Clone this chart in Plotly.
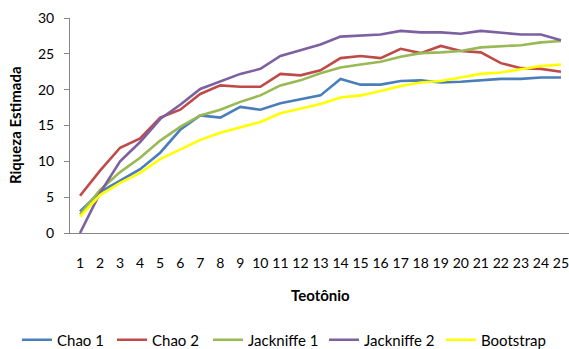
import plotly.graph_objects as go

amostras = list(range(1, 26))
chao1 = [3.0, 5.7, 7.3, 8.9, 11.2, 14.4, 16.4, 16.1, 17.6, 17.2, 18.1, 18.7, 19.2, 21.5, 20.7, 20.7, 21.2, 21.3, 21.0, 21.1, 21.3, 21.5, 21.5, 21.7, 21.7]
chao2 = [5.2, 8.7, 11.9, 13.2, 16.1, 17.2, 19.4, 20.6, 20.4, 20.4, 22.2, 22.0, 22.7, 24.4, 24.7, 24.4, 25.7, 25.1, 26.1, 25.4, 25.2, 23.7, 23.0, 22.9, 22.5]
jack1 = [2.6, 6.0, 8.5, 10.5, 12.9, 14.8, 16.4, 17.2, 18.3, 19.2, 20.6, 21.3, 22.3, 23.1, 23.5, 23.9, 24.6, 25.1, 25.2, 25.4, 25.9, 26.1, 26.2, 26.6, 26.8]
jack2 = [0.0, 5.6, 10.0, 12.7, 15.9, 17.9, 20.1, 21.1, 22.2, 22.9, 24.7, 25.5, 26.3, 27.4, 27.5, 27.7, 28.2, 28.0, 28.0, 27.8, 28.2, 28.0, 27.7, 27.7, 26.9]
boot = [2.3, 5.3, 7.0, 8.4, 10.3, 11.6, 13.0, 14.0, 14.8, 15.5, 16.7, 17.3, 18.0, 18.9, 19.2, 19.8, 20.5, 21.0, 21.2, 21.7, 22.2, 22.4, 22.9, 23.3, 23.5]
yticks = [0, 5, 10, 15, 20, 25, 30]

series = [
    ("Chao 1", chao1, "#4A7EBB"),
    ("Chao 2", chao2, "#BE4B48"),
    ("Jackniffe 1", jack1, "#98B954"),
    ("Jackniffe 2", jack2, "#7D60A0"),
    ("Bootstrap", boot, "#FFFF00"),
]
# legend text start positions (pixels) in the reference
legend_text_x = [60, 155, 251, 367, 484]

FONT = "Lato"
W, H = 569, 349
L, R, T, B = 70, 0, 18, 116
pw, ph = W - L - R, H - T - B

def px(xp):
    return (xp - L) / pw

def py(yp):
    return ((H - yp) - B) / ph

fig = go.Figure()
layout_legends = {}
for i, (name, vals, col) in enumerate(series):
    key = "legend" if i == 0 else f"legend{i+1}"
    fig.add_trace(go.Scatter(x=amostras, y=vals, mode="lines", name=name,
                             line=dict(color=col, width=2.6), legend=key))
    layout_legends[key] = dict(
        orientation="h", x=(legend_text_x[i] - 43) / W, xref="container",
        y=(H - 340) / H, yref="container", yanchor="middle", xanchor="left",
        font=dict(family=FONT, size=15, color="#000000"), itemwidth=30,
        bgcolor="rgba(0,0,0,0)")

fig.update_layout(
    width=W, height=H,
    margin=dict(l=L, r=R, t=T, b=B),
    paper_bgcolor="white", plot_bgcolor="white",
    font=dict(family=FONT, size=13, color="#000000"),
    showlegend=True,
    xaxis=dict(range=[0.5, 25.4], tickmode="array", tickvals=amostras,
               ticktext=[str(v) for v in amostras], showgrid=False, zeroline=False,
               showline=True, linecolor="#868686", linewidth=1, ticks="",
               tickfont=dict(size=14), ticklabelstandoff=17, fixedrange=True,
               ticklabeloverflow="allow"),
    yaxis=dict(range=[0, 30], tickmode="array", tickvals=yticks,
               showgrid=False, zeroline=False, showline=True, linecolor="#868686",
               linewidth=1, ticks="outside", ticklen=5, tickcolor="#868686",
               tickfont=dict(size=14), ticklabelstandoff=7, ticklabeloverflow="allow"),
    annotations=[
        dict(text="<b>Teotônio</b>", x=px(320), y=py(295), xref="paper", yref="paper",
             xanchor="center", yanchor="middle", showarrow=False, font=dict(size=15)),
        dict(text="<b>Riqueza Estimada</b>", x=px(15), y=py(125), xref="paper", yref="paper",
             xanchor="center", yanchor="middle", showarrow=False, textangle=-90,
             font=dict(size=15)),
    ],
    **layout_legends,
)
fig.write_html("out.html")
